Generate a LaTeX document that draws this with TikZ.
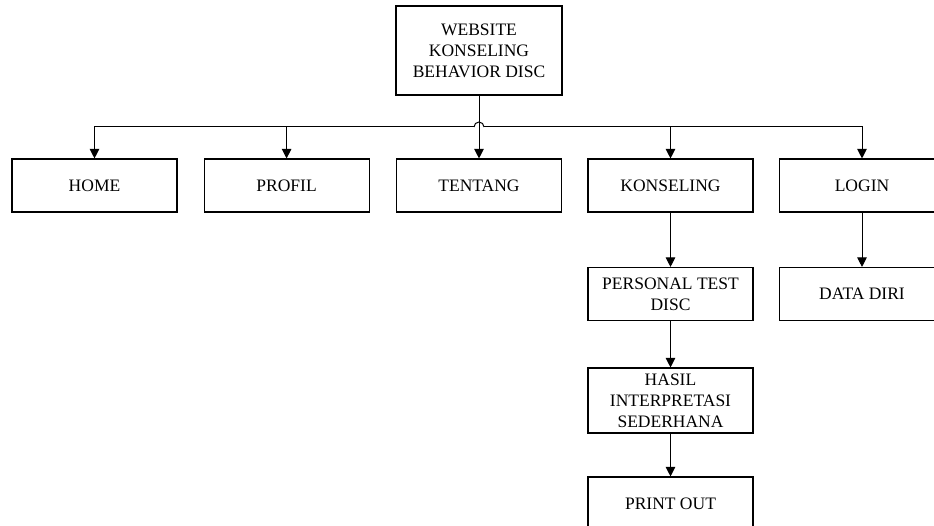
\documentclass[tikz,border=0pt]{standalone}
\usepackage{fontspec}
\setmainfont{Liberation Serif}
\usetikzlibrary{arrows.meta,positioning,calc}

\begin{document}
\begin{tikzpicture}[
  x=1pt, y=1pt,
  font=\fontsize{17.5}{21}\selectfont,
  node distance=26pt and 26pt,
  >={Triangle[width=9.5pt,length=9.5pt]},
  line width=1pt,
  box/.style={draw,line width=1.1pt,inner sep=2pt,align=center,minimum width=165pt,minimum height=53pt},
  root/.style={box,minimum width=166pt,minimum height=89pt}
]
\useasboundingbox (0,0) rectangle (934,525);
\clip (0,0) rectangle (934,525);

% ---- Root ----
\node[root] (title) at (479,474.5) {WEBSITE\\KONSELING\\BEHAVIOR DISC};

% ---- Menu ----
\node[box] (home) at (94.5,339.5) {HOME};
\node[box, right=of home] (profil) {PROFIL};
\node[box] (tentang) at (479,339.5) {TENTANG};
\node[box] (konseling) at (670.5,339.5) {KONSELING};
\node[box] (login) at (862,339.5) {LOGIN};

% ---- Sub menu ----
\node[box] (personal) at (670.5,231) {PERSONAL TEST\\DISC};
\node[box] (datadiri) at (862,231) {DATA DIRI};
\node[box, minimum height=65pt] (hasil) at (670.5,124.5) {HASIL\\INTERPRETASI\\SEDERHANA};
\node[box] (print) at (670.5,21.5) {PRINT OUT};

% ---- Arrows ----
\coordinate (bus) at (479,398);
\draw[->] (title.south) -- (tentang.north);
\draw ([xshift=-5pt]bus) arc[start angle=180,end angle=0,radius=5pt];
\foreach \b in {home,profil} {
  \draw[->] ([xshift=-5pt]bus) -| (\b.north);
}
\foreach \b in {konseling,login} {
  \draw[->] ([xshift=5pt]bus) -| (\b.north);
}
\foreach \a/\b in {konseling/personal,login/datadiri,personal/hasil,hasil/print} {
  \draw[->] (\a.south) -- (\b.north);
}

\end{tikzpicture}
\end{document}
